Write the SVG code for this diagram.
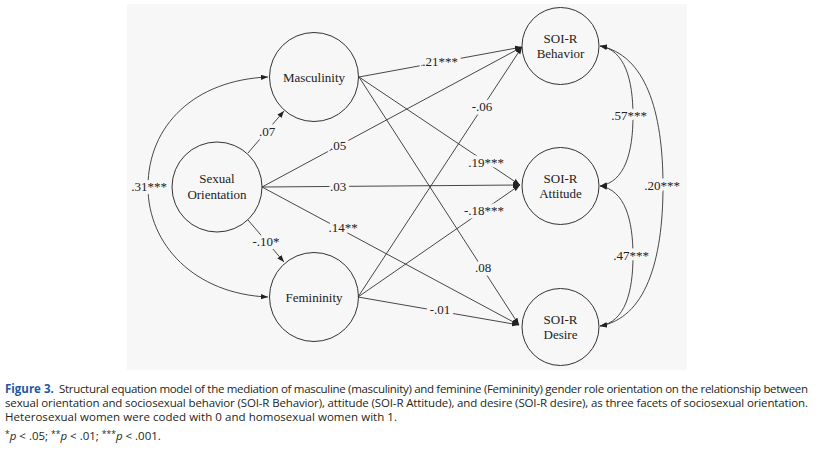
<svg xmlns="http://www.w3.org/2000/svg" width="816" height="451" viewBox="0 0 816 451">
<style>
.node{fill:none;stroke:#333;stroke-width:1}
.nt{font-family:'Liberation Serif','DejaVu Serif',serif;font-size:13px;fill:#222;text-anchor:middle}
.lbl{font-family:'Liberation Serif','DejaVu Serif',serif;font-size:13px;fill:#222;text-anchor:middle;stroke:#f7f7f7;stroke-width:7;paint-order:stroke;stroke-linejoin:round}
.e{fill:none;stroke:#333;stroke-width:0.9}
.cap{font-family:'Open Sans','Noto Sans',sans-serif;font-size:11.5px;fill:#231f20}
</style>
<defs>
<marker id="ah" viewBox="0 0 8 6" refX="8" refY="3" markerWidth="7" markerHeight="5.5" markerUnits="userSpaceOnUse" orient="auto-start-reverse">
<path d="M0,0 L8,3 L0,6 z" fill="#222"/>
</marker>
</defs>
<rect x="127" y="4" width="560" height="366" fill="#f7f7f7"/>
<g id="connectors">
<line class="e" x1="359" y1="77" x2="522" y2="47" marker-end="url(#ah)"/>
<line class="e" x1="359" y1="77" x2="520" y2="185" marker-end="url(#ah)"/>
<line class="e" x1="359" y1="77" x2="519" y2="325" marker-end="url(#ah)"/>
<line class="e" x1="248" y1="153" x2="284" y2="111" marker-end="url(#ah)"/>
<line class="e" x1="248" y1="220" x2="284" y2="262" marker-end="url(#ah)"/>
<line class="e" x1="262" y1="187" x2="522" y2="47" marker-end="url(#ah)"/>
<line class="e" x1="262" y1="187" x2="520" y2="185" marker-end="url(#ah)"/>
<line class="e" x1="262" y1="187" x2="519" y2="325" marker-end="url(#ah)"/>
<line class="e" x1="358" y1="297" x2="522" y2="47" marker-end="url(#ah)"/>
<line class="e" x1="358" y1="297" x2="520" y2="185" marker-end="url(#ah)"/>
<line class="e" x1="358" y1="297" x2="519" y2="325" marker-end="url(#ah)"/>
<path class="e" d="M268,77 C195,80 148,125 148,187 C148,245 195,294 268,297" marker-start="url(#ah)" marker-end="url(#ah)"/>
<path class="e" d="M600,46 C625,50 633,80 633,116 C633,152 625,182 600,186" marker-start="url(#ah)" marker-end="url(#ah)"/>
<path class="e" d="M600,186 C625,190 633,220 633,256 C633,292 625,322 600,326" marker-start="url(#ah)" marker-end="url(#ah)"/>
<path class="e" d="M600,46 C645,55 663,110 663,186 C663,262 645,318 600,326" marker-start="url(#ah)" marker-end="url(#ah)"/>
<text class="lbl" x="440" y="66">.21***</text>
<text class="lbl" x="486" y="167">.19***</text>
<text class="lbl" x="483" y="272">.08</text>
<text class="lbl" x="267" y="136">.07</text>
<text class="lbl" x="266" y="246">-.10*</text>
<text class="lbl" x="338" y="150">.05</text>
<text class="lbl" x="338" y="191">.03</text>
<text class="lbl" x="343" y="232">.14**</text>
<text class="lbl" x="482" y="111">-.06</text>
<text class="lbl" x="484" y="215">-.18***</text>
<text class="lbl" x="440" y="314">-.01</text>
<text class="lbl" x="149" y="191">.31***</text>
<text class="lbl" x="629" y="120">.57***</text>
<text class="lbl" x="631" y="260">.47***</text>
<text class="lbl" x="662" y="190">.20***</text>
</g>
<g id="masculinity"><circle class="node" cx="314" cy="77" r="44.5"/><text class="nt" x="314" y="81.5">Masculinity</text></g>
<g id="sexual-orientation"><circle class="node" cx="217" cy="187" r="45"/><text class="nt" x="217" y="183">Sexual</text><text class="nt" x="217" y="199">Orientation</text></g>
<g id="femininity"><circle class="node" cx="314" cy="297" r="44.5"/><text class="nt" x="314" y="301.5">Femininity</text></g>
<g id="soi-behavior"><circle class="node" cx="560.5" cy="46" r="38.5"/><text class="nt" x="560.5" y="43">SOI-R</text><text class="nt" x="560.5" y="58">Behavior</text></g>
<g id="soi-attitude"><circle class="node" cx="560.5" cy="186" r="38.5"/><text class="nt" x="560.5" y="183">SOI-R</text><text class="nt" x="560.5" y="198">Attitude</text></g>
<g id="soi-desire"><circle class="node" cx="560.5" cy="327" r="38.5"/><text class="nt" x="560.5" y="324">SOI-R</text><text class="nt" x="560.5" y="339">Desire</text></g>
<g id="caption">
<text class="cap" x="5" y="393" style="font-weight:bold;fill:#1c5aa6">Figure 3.</text>
<text class="cap" x="59" y="393" textLength="749" lengthAdjust="spacing">Structural equation model of the mediation of masculine (masculinity) and feminine (Femininity) gender role orientation on the relationship between</text>
<text class="cap" x="5" y="407" textLength="803" lengthAdjust="spacing">sexual orientation and sociosexual behavior (SOI-R Behavior), attitude (SOI-R Attitude), and desire (SOI-R desire), as three facets of sociosexual orientation.</text>
<text class="cap" x="5" y="421" textLength="392" lengthAdjust="spacing">Heterosexual women were coded with 0 and homosexual women with 1.</text>
<text class="cap" x="5" y="440"><tspan font-size="8.5" dy="-3.5">*</tspan><tspan dy="3.5" font-style="italic">p</tspan> &lt; .05; <tspan font-size="8.5" dy="-3.5">**</tspan><tspan dy="3.5" font-style="italic">p</tspan> &lt; .01; <tspan font-size="8.5" dy="-3.5">***</tspan><tspan dy="3.5" font-style="italic">p</tspan> &lt; .001.</text>
</g>
</svg>
